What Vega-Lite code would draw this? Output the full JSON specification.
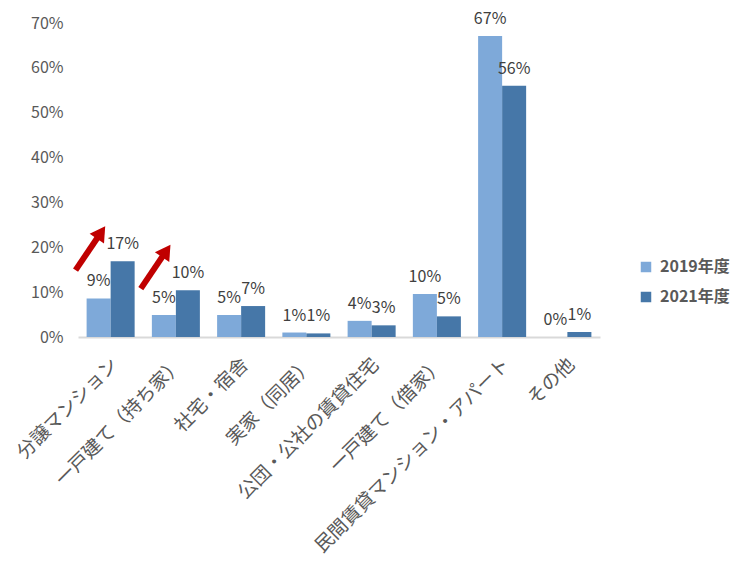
{
  "$schema": "https://vega.github.io/schema/vega-lite/v6.json",
  "width": 522,
  "height": 314,
  "autosize": "none",
  "padding": {"left": 78, "top": 23, "right": 150, "bottom": 234},
  "config": {
    "view": {"stroke": null},
    "font": "Noto Sans CJK JP"
  },
  "datasets": {
    "bars": [
      {"cat": "分譲マンション", "series": "2019年度", "value": 0.086},
      {"cat": "分譲マンション", "series": "2021年度", "value": 0.169},
      {"cat": "一戸建て（持ち家）", "series": "2019年度", "value": 0.049},
      {"cat": "一戸建て（持ち家）", "series": "2021年度", "value": 0.104},
      {"cat": "社宅・宿舎", "series": "2019年度", "value": 0.049},
      {"cat": "社宅・宿舎", "series": "2021年度", "value": 0.069},
      {"cat": "実家（同居）", "series": "2019年度", "value": 0.010},
      {"cat": "実家（同居）", "series": "2021年度", "value": 0.008},
      {"cat": "公団・公社の賃貸住宅", "series": "2019年度", "value": 0.036},
      {"cat": "公団・公社の賃貸住宅", "series": "2021年度", "value": 0.026},
      {"cat": "一戸建て（借家）", "series": "2019年度", "value": 0.096},
      {"cat": "一戸建て（借家）", "series": "2021年度", "value": 0.046},
      {"cat": "民間賃貸マンション・アパート", "series": "2019年度", "value": 0.671},
      {"cat": "民間賃貸マンション・アパート", "series": "2021年度", "value": 0.560},
      {"cat": "その他", "series": "2019年度", "value": 0.0},
      {"cat": "その他", "series": "2021年度", "value": 0.011}
    ],
    "arrows": [
      {"cat": "分譲マンション", "yTail": 0.149, "yHead": 0.233},
      {"cat": "一戸建て（持ち家）", "yTail": 0.108, "yHead": 0.192}
    ]
  },
  "encoding": {
    "x": {
      "field": "cat",
      "type": "nominal",
      "title": null,
      "scale": {
        "domain": ["分譲マンション", "一戸建て（持ち家）", "社宅・宿舎", "実家（同居）", "公団・公社の賃貸住宅", "一戸建て（借家）", "民間賃貸マンション・アパート", "その他"],
        "paddingInner": 0.264,
        "paddingOuter": 0.132
      },
      "axis": {
        "labelAngle": -45,
        "labelAlign": "right",
        "labelBaseline": "middle",
        "labelFontSize": 19,
        "labelColor": "#595959",
        "labelPadding": 24,
        "labelOffset": 4,
        "labelLimit": 0,
        "ticks": false,
        "domainColor": "#D9D9D9",
        "domainWidth": 2
      }
    }
  },
  "layer": [
    {
      "data": {"name": "bars"},
      "mark": {"type": "bar"},
      "encoding": {
        "xOffset": {"field": "series", "type": "nominal", "scale": {"paddingInner": 0, "paddingOuter": 0}},
        "y": {
          "field": "value",
          "type": "quantitative",
          "title": null,
          "scale": {"domain": [0, 0.7]},
          "axis": {
            "values": [0, 0.1, 0.2, 0.3, 0.4, 0.5, 0.6, 0.7],
            "format": ".0%",
            "domain": false,
            "ticks": false,
            "grid": false,
            "labelFontSize": 16,
            "labelColor": "#595959",
            "labelPadding": 15
          }
        },
        "color": {
          "field": "series",
          "type": "nominal",
          "title": null,
          "scale": {"domain": ["2019年度", "2021年度"], "range": ["#7EA9D9", "#4677A8"]},
          "legend": {
            "orient": "none",
            "legendX": 560,
            "legendY": 236,
            "symbolType": "square",
            "symbolSize": 110,
            "symbolStrokeWidth": 0,
            "labelFontSize": 16,
            "labelFontWeight": "bold",
            "labelColor": "#595959",
            "rowPadding": 14,
            "labelOffset": 6
          }
        }
      }
    },
    {
      "data": {"name": "bars"},
      "mark": {"type": "text", "baseline": "bottom", "dy": -9, "fontSize": 16, "color": "#404040"},
      "encoding": {
        "xOffset": {"field": "series", "type": "nominal"},
        "y": {"field": "value", "type": "quantitative"},
        "text": {"field": "value", "type": "quantitative", "format": ".0%"}
      }
    },
    {
      "data": {"name": "arrows"},
      "mark": {"type": "rule", "color": "#C00000", "strokeWidth": 6},
      "encoding": {
        "x": {"field": "cat", "type": "nominal", "bandPosition": -0.23},
        "x2": {"field": "cat", "bandPosition": 0.3},
        "y": {"field": "yTail", "type": "quantitative"},
        "y2": {"field": "yHead"}
      }
    },
    {
      "data": {"name": "arrows"},
      "mark": {"type": "point", "shape": "triangle-up", "filled": true, "size": 300, "angle": 34, "color": "#C00000", "opacity": 1},
      "encoding": {
        "x": {"field": "cat", "type": "nominal", "bandPosition": 0.3},
        "y": {"field": "yHead", "type": "quantitative"}
      }
    }
  ]
}
